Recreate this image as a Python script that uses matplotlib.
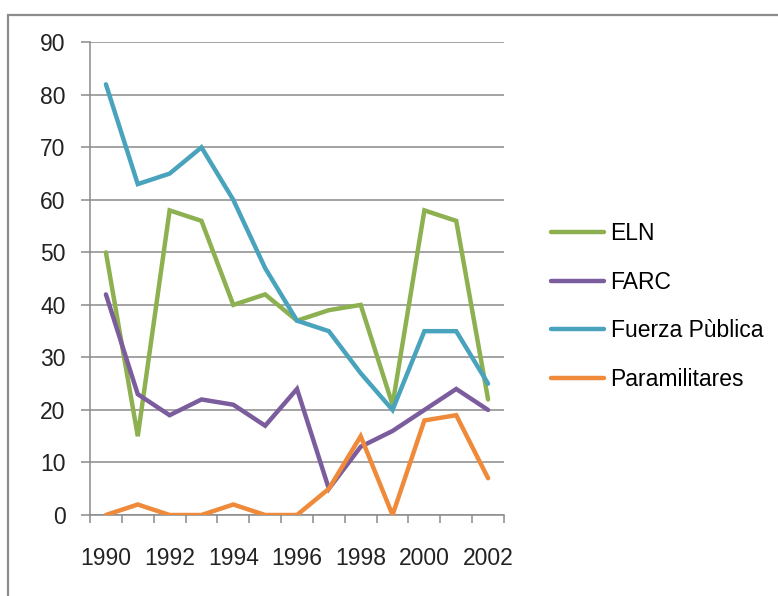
import matplotlib.pyplot as plt
from matplotlib.patches import Rectangle
from matplotlib.ticker import FixedLocator

years = list(range(1990, 2003))
eln = [50, 15, 58, 56, 40, 42, 37, 39, 40, 21, 58, 56, 22]
farc = [42, 23, 19, 22, 21, 17, 24, 5, 13, 16, 20, 24, 20]
fuerza = [82, 63, 65, 70, 60, 47, 37, 35, 27, 20, 35, 35, 25]
para = [0, 2, 0, 0, 2, 0, 0, 5, 15, 0, 18, 19, 7]

series = [
    ("ELN", eln, "#8db050"),
    ("FARC", farc, "#7b5c9d"),
    ("Fuerza Pùblica", fuerza, "#4aa3bd"),
    ("Paramilitares", para, "#ee8a3a"),
]

plt.rcParams["font.family"] = ["Liberation Sans", "DejaVu Sans"]
W, H = 778, 596
fig = plt.figure(figsize=(W / 100, H / 100), dpi=100)
ax = fig.add_axes([90 / W, 1 - 515 / H, (504 - 90) / W, (515 - 42.3) / H])

x = list(range(len(years)))
for name, vals, color in series:
    ax.plot(x, vals, color=color, lw=3.2, label=name, solid_joinstyle="miter",
            solid_capstyle="round", zorder=3)

grid = "#8a8a8a"
ax.set_ylim(0, 90)
ax.set_xlim(-0.5, len(years) - 0.5)
ax.set_yticks(range(0, 91, 10))
ax.yaxis.grid(True, color=grid, lw=1.1)
ax.set_axisbelow(True)
ax.set_xticks(x[::2])
ax.set_xticklabels([str(y) for y in years[::2]])
ax.xaxis.set_minor_locator(FixedLocator([i - 0.5 for i in range(len(years) + 1)]))

for s in ["top", "right"]:
    ax.spines[s].set_visible(False)
for s in ["left", "bottom"]:
    ax.spines[s].set_color(grid)
    ax.spines[s].set_linewidth(1.1)

ax.tick_params(axis="y", length=6.5, width=1.1, color=grid, pad=11,
               labelsize=16.5, labelcolor="#222222")
ax.tick_params(axis="x", which="major", length=0, pad=23,
               labelsize=16.5, labelcolor="#222222")
ax.tick_params(axis="x", which="minor", length=6, width=1.1, color=grid)

fig.legend(loc="center left", bbox_to_anchor=(551 / W, 1 - 306.5 / H),
           bbox_transform=fig.transFigure, frameon=False, fontsize=16.5,
           handlelength=2.3, handletextpad=0.3, labelspacing=1.11,
           borderpad=0, borderaxespad=0)

fig.patches.append(Rectangle((8 / W, -0.1), 1.2, 1.1 - 15 / H, transform=fig.transFigure,
                             fill=False, edgecolor="#8c8c8c", lw=1.6))

fig.savefig("out.png", dpi=100)
